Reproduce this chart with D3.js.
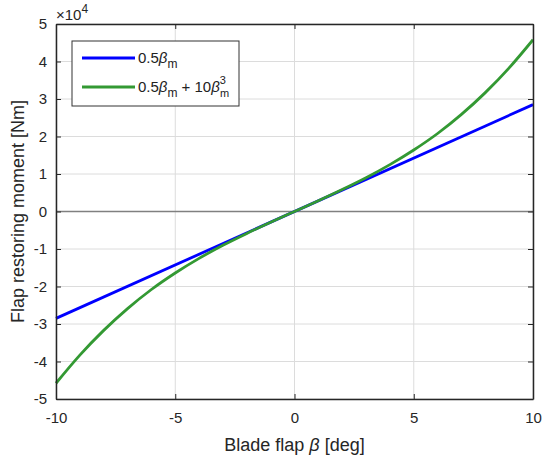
<!DOCTYPE html>
<html>
<head>
<meta charset="utf-8">
<script src="https://cdn.jsdelivr.net/npm/d3@7"></script>
<style>
  body { margin: 0; background: #fff; }
  svg { font-family: Arial, "Liberation Sans", Helvetica, sans-serif; }
</style>
</head>
<body>
<div id="chart"></div>
<script>
// data
const xTicks = [-10, -5, 0, 5, 10];
const yTicks = [-5, -4, -3, -2, -1, 0, 1, 2, 3, 4, 5];
const linearX = [-10, 10];
const linearY = [-28500, 28500];
const cubicX = [-10, -9, -8, -7, -6, -5, -4, -3, -2, -1, 0, 1, 2, 3, 4, 5, 6, 7, 8, 9, 10];
const cubicY = [-45800, -38300, -31700, -25900, -20800, -16400, -12500, -9000, -5850, -2870, 0,
                2870, 5850, 9000, 12500, 16400, 20800, 25900, 31700, 38300, 45800];

const width = 542, height = 459;
const margin = { top: 24, right: 9, bottom: 60, left: 56 };
const innerW = width - margin.left - margin.right;
const innerH = height - margin.top - margin.bottom;

const svg = d3.select("#chart").append("svg")
  .attr("width", width)
  .attr("height", height);

const g = svg.append("g").attr("transform", `translate(${margin.left},${margin.top})`);

const x = d3.scaleLinear().domain([-10, 10]).range([0, innerW]);
const y = d3.scaleLinear().domain([-5e4, 5e4]).range([innerH, 0]);

// grid
g.append("g").selectAll("line").data(xTicks).join("line")
  .attr("x1", d => x(d)).attr("x2", d => x(d))
  .attr("y1", 0).attr("y2", innerH)
  .attr("stroke", "#dcdcdc").attr("stroke-width", 1);
g.append("g").selectAll("line").data(yTicks).join("line")
  .attr("y1", d => y(d * 1e4)).attr("y2", d => y(d * 1e4))
  .attr("x1", 0).attr("x2", innerW)
  .attr("stroke", "#dcdcdc").attr("stroke-width", 1);

// zero line
g.append("line")
  .attr("x1", 0).attr("x2", innerW)
  .attr("y1", y(0)).attr("y2", y(0))
  .attr("stroke", "#808080").attr("stroke-width", 1.5);

const line = d3.line().x(d => x(d[0])).y(d => y(d[1]));

g.append("path")
  .datum(linearX.map((v, i) => [v, linearY[i]]))
  .attr("d", line).attr("fill", "none")
  .attr("stroke", "#0000ff").attr("stroke-width", 2.8);

g.append("path")
  .datum(cubicX.map((v, i) => [v, cubicY[i]]))
  .attr("d", line.curve(d3.curveMonotoneX)).attr("fill", "none")
  .attr("stroke", "#339933").attr("stroke-width", 2.8);

// axes (ticks inward on all sides)
const axisColor = "#262626";
function styleAxis(sel) {
  sel.attr("font-family", null);
  sel.selectAll("path,line").attr("stroke", axisColor);
  sel.select("path.domain").attr("stroke-width", 1.5);
  sel.selectAll("text").attr("fill", axisColor).attr("font-size", 15);
}
const hyphen = d => String(d).replace("\u2212", "-");

g.append("g")
  .attr("transform", `translate(0,${innerH})`)
  .call(d3.axisBottom(x).tickValues(xTicks).tickSizeInner(-5).tickSizeOuter(0)
    .tickPadding(13).tickFormat(hyphen))
  .call(styleAxis);

g.append("g")
  .call(d3.axisTop(x).tickValues(xTicks).tickSizeInner(-5).tickSizeOuter(0).tickFormat(""))
  .call(styleAxis);

g.append("g")
  .call(d3.axisLeft(y).tickValues(yTicks.map(d => d * 1e4)).tickSizeInner(-5).tickSizeOuter(0)
    .tickPadding(9).tickFormat(d => hyphen(d / 1e4)))
  .call(styleAxis);

g.append("g")
  .attr("transform", `translate(${innerW},0)`)
  .call(d3.axisRight(y).tickValues(yTicks.map(d => d * 1e4)).tickSizeInner(-5).tickSizeOuter(0).tickFormat(""))
  .call(styleAxis);

// exponent label
const expo = svg.append("text")
  .attr("x", margin.left).attr("y", 20)
  .attr("font-size", 15).attr("fill", axisColor);
expo.append("tspan").text("\u00d710");
expo.append("tspan").attr("dy", -7).attr("font-size", 12).text("4");

// axis labels
svg.append("text")
  .attr("x", margin.left + innerW / 2).attr("y", 451)
  .attr("text-anchor", "middle").attr("font-size", 18).attr("fill", axisColor)
  .call(t => {
    t.append("tspan").text("Blade flap ");
    t.append("tspan").attr("font-style", "italic").text("\u03b2");
    t.append("tspan").text(" [deg]");
  });

svg.append("text")
  .attr("transform", `translate(24,${margin.top + innerH / 2}) rotate(-90)`)
  .attr("text-anchor", "middle").attr("font-size", 18).attr("fill", axisColor)
  .text("Flap restoring moment [Nm]");

// legend
const leg = svg.append("g").attr("transform", "translate(72,41)");
leg.append("rect")
  .attr("width", 167).attr("height", 65)
  .attr("fill", "#fff").attr("stroke", "#333").attr("stroke-width", 1);

const legendItems = [
  { color: "#0000ff", y: 17 },
  { color: "#339933", y: 46 }
];
leg.selectAll("line.item").data(legendItems).join("line")
  .attr("class", "item")
  .attr("x1", 10).attr("x2", 63)
  .attr("y1", d => d.y).attr("y2", d => d.y)
  .attr("stroke", d => d.color).attr("stroke-width", 2.8);

// first legend entry: 0.5 beta_m
const t1 = leg.append("text").attr("x", 66).attr("y", 22).attr("font-size", 15).attr("fill", "#222");
t1.append("tspan").text("0.5");
t1.append("tspan").attr("font-style", "italic").text("\u03b2");
t1.append("tspan").attr("dy", 5).attr("font-size", 12).text("m");

// second legend entry: 0.5 beta_m + 10 beta_m^3
const t2 = leg.append("text").attr("x", 66).attr("y", 51).attr("font-size", 15).attr("fill", "#222");
t2.append("tspan").text("0.5");
t2.append("tspan").attr("font-style", "italic").text("\u03b2");
t2.append("tspan").attr("dy", 5).attr("font-size", 12).text("m");
t2.append("tspan").attr("dy", -5).text(" + 10");
t2.append("tspan").attr("font-style", "italic").text("\u03b2");
t2.append("tspan").attr("dy", -8).attr("font-size", 11).text("3");
t2.append("tspan").attr("dx", -6).attr("dy", 13).attr("font-size", 11).text("m");
</script>
</body>
</html>
